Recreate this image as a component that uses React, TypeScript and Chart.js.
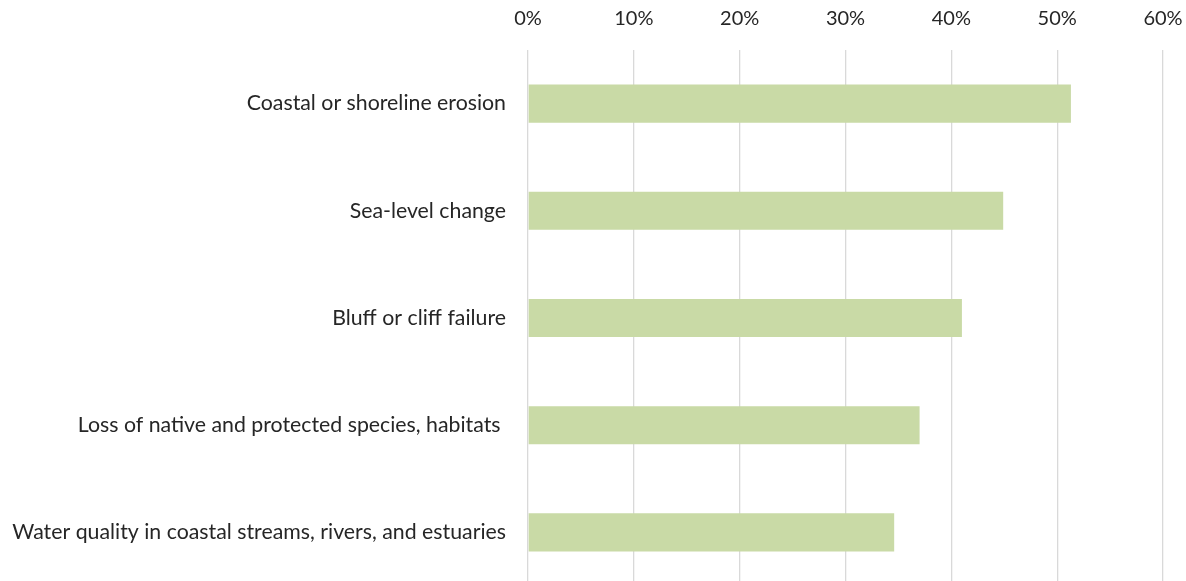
import React, { useEffect, useRef } from "react";
import { Chart, registerables } from "chart.js";

Chart.register(...registerables);

const categories = [
  "Coastal or shoreline erosion",
  "Sea-level change",
  "Bluff or cliff failure",
  "Loss of native and protected species, habitats ",
  "Water quality in coastal streams, rivers, and estuaries",
];
const values = [51.3, 44.9, 41.0, 37.0, 34.6];
const xTicks = [0, 10, 20, 30, 40, 50, 60];

const FONT = "Lato, 'Open Sans', sans-serif";

export default function App() {
  const ref = useRef<HTMLCanvasElement | null>(null);
  useEffect(() => {
    if (!ref.current) return;
    const chart = new Chart(ref.current, {
      type: "bar",
      data: {
        labels: categories,
        datasets: [
          {
            data: values,
            backgroundColor: "#C9DAA6",
            borderWidth: 0,
            barPercentage: 0.355,
            categoryPercentage: 1,
          },
        ],
      },
      options: {
        indexAxis: "y",
        animation: false,
        responsive: true,
        maintainAspectRatio: false,
        layout: { padding: { left: 0, right: 23, top: 0, bottom: 0 } },
        plugins: { legend: { display: false }, tooltip: { enabled: false } },
        scales: {
          x: {
            position: "top",
            min: 0,
            max: 60,
            afterBuildTicks: (scale: any) => {
              scale.ticks = xTicks.map((v) => ({ value: v }));
            },
            afterFit: (scale: any) => {
              scale.height = 50;
              scale.paddingLeft = 0;
              scale.paddingRight = 0;
              scale.paddingTop = 0;
              scale.paddingBottom = 0;
            },
            ticks: {
              callback: (v: any) => `${v}%`,
              color: "#262626",
              font: { family: FONT, size: 20 },
              padding: 19,
              maxRotation: 0,
            },
            grid: { color: "#D9D9D9", lineWidth: 1.3, drawTicks: false },
            border: { display: false },
          },
          y: {
            afterFit: (scale: any) => {
              scale.width = 528;
              scale.paddingLeft = 0;
              scale.paddingRight = 0;
              scale.paddingTop = 0;
              scale.paddingBottom = 0;
            },
            ticks: {
              color: "#262626",
              font: { family: FONT, size: 21.3 },
              padding: 22,
            },
            grid: { display: false, drawTicks: false },
            border: { display: false },
          },
        },
      },
    });
    return () => chart.destroy();
  }, []);
  return (
    <div style={{ position: "fixed", left: 0, top: 0, width: 1186, height: 581, overflow: "hidden", background: "#fff" }}>
      <div style={{ position: "relative", width: 1186, height: 586 }}>
        <canvas ref={ref} />
      </div>
    </div>
  );
}
